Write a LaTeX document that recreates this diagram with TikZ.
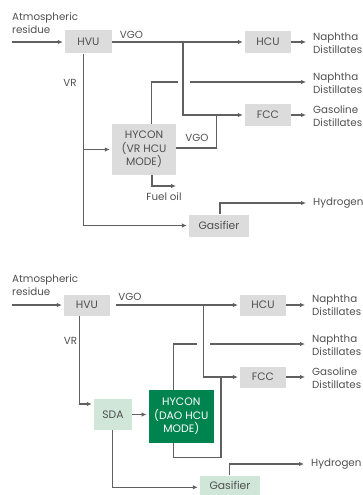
\documentclass[tikz,border=0pt]{standalone}
\usepackage{fontspec}
\setmainfont{Poppins}
\usetikzlibrary{arrows.meta,calc}
\definecolor{boxgrey}{HTML}{DCDCDC}
\definecolor{lightg}{HTML}{CFE6D9}
\definecolor{darkg}{HTML}{00844F}
\definecolor{lnc}{HTML}{606060}
\definecolor{txt}{HTML}{505050}
\tikzset{
  unit/.style={fill=boxgrey, text=txt, inner sep=0, align=center, font=\fontsize{10.8}{13.5}\selectfont},
  lbl/.style={text=txt, inner sep=0, align=left, font=\fontsize{10.3}{13.5}\selectfont},
  ln/.style={draw=lnc, line width=1.2pt},
  arrN/.style={ln, -{Latex[length=5pt,width=4.5pt]}},
  arr/.style={arrN, shorten >=2pt},
  arrT/.style={arrN, shorten >=7pt},
}
\begin{document}
\begin{tikzpicture}[x=1pt,y=-1pt]
\useasboundingbox (0,0) rectangle (362,495);
% ---------- top diagram ----------
\node[lbl, anchor=north west] (atm1) at (12,12) {Atmospheric\\residue};
\node[unit, minimum width=47pt, minimum height=23pt] (hvu1) at (88.5,42) {HVU};
\node[unit, minimum width=46pt, minimum height=22pt] (hcu1) at (268,42) {HCU};
\node[unit, minimum width=46pt, minimum height=22pt] (fcc1) at (268,115) {FCC};
\node[unit, minimum width=64pt, minimum height=51pt] (hyc1) at (144,149.5) {HYCON\\(VR HCU\\MODE)};
\node[unit, minimum width=60pt, minimum height=22pt] (gas1) at (219,225.5) {Gasifier};
\node[lbl, anchor=west] (nd1) at (313,43) {Naphtha\\Distillates};
\node[lbl, anchor=west] (nd2) at (313,83) {Naphtha\\Distillates};
\node[lbl, anchor=west] (gd1) at (313,116) {Gasoline\\Distillates};
\node[lbl, anchor=west] (hy1) at (313,203) {Hydrogen};
\node[lbl] (vgo1) at (131.5,35) {VGO};
\node[lbl] (vr1l) at (70,82.5) {VR};
\node[lbl] (vgo2) at (197,137.5) {VGO};
\node[lbl] (fuel1) at (164,196.5) {Fuel oil};
\coordinate (in1) at (12,42);
\draw[arr] (in1) -- (hvu1.west);
\draw[arr] (hvu1.east) -- (hcu1.west);
\coordinate (j1) at (183,42);
\draw[arr] (j1) |- (fcc1.west);
\draw[arrT] (hcu1.east) -- (hcu1.east -| nd1.west);
\draw[arrT] (fcc1.east) -- (fcc1.east -| gd1.west);
\coordinate (h1a) at (178,82);
\coordinate (h1b) at (190,82);
\draw[ln] ([xshift=7.5pt]hyc1.north) |- (h1a);
\draw[arrT] (h1b) -- (h1b -| nd2.west);
\coordinate (j2) at (216.5,115);
\draw[ln] ([yshift=1.5pt]hyc1.east) -| (j2);
\coordinate (fo1) at (176,186);
\draw[arrN] ([xshift=8pt]hyc1.south) |- (fo1);
\coordinate (vr1a) at (83.3,149.5);
\coordinate (vr1b) at (83.3,225.5);
\draw[ln] (hvu1.south -| vr1b) -- (vr1b);
\draw[arr] (vr1a) -- (hyc1.west);
\draw[arr] (vr1b) -- (gas1.west);
\draw[arrT] ([xshift=1pt]gas1.north) |- (hy1.west);
% ---------- bottom diagram ----------
\node[lbl, anchor=north west] (atm2) at (12,274) {Atmospheric\\residue};
\node[unit, minimum width=46pt, minimum height=21pt] (hvu2) at (87,305) {HVU};
\node[unit, minimum width=46pt, minimum height=21pt] (hcu2) at (263,305) {HCU};
\node[unit, minimum width=46pt, minimum height=21pt] (fcc2) at (263,377) {FCC};
\node[unit, fill=darkg, text=white, minimum width=65pt, minimum height=53pt] (hyc2) at (181.3,416.3) {HYCON\\(DAO HCU\\MODE)};
\node[unit, fill=lightg, minimum width=38pt, minimum height=31pt] (sda2) at (113,414.5) {SDA};
\node[unit, fill=lightg, minimum width=60pt, minimum height=20pt] (gas2) at (230,485.5) {Gasifier};
\node[lbl, anchor=west] (nd3) at (312,305) {Naphtha\\Distillates};
\node[lbl, anchor=west] (nd4) at (312,345) {Naphtha\\Distillates};
\node[lbl, anchor=west] (gd2) at (312,378) {Gasoline\\Distillates};
\node[lbl, anchor=west] (hy2) at (311,464) {Hydrogen};
\node[lbl] (vgo3) at (130,297) {VGO};
\node[lbl] (vr2l) at (70.5,341) {VR};
\coordinate (in2) at (12,305);
\draw[arr] (in2) -- (hvu2.west);
\draw[arr] ([xshift=5.5pt]hvu2.east) -- (hcu2.west);
\coordinate (j3) at (203.3,305);
\draw[arr] (j3) |- (fcc2.west);
\draw[arrT] (hcu2.east) -- (hcu2.east -| nd3.west);
\draw[arrT] (fcc2.east) -- (fcc2.east -| gd2.west);
\coordinate (h2a) at (197,344);
\coordinate (h2b) at (210,344);
\draw[ln] ([xshift=-8pt]hyc2.north) |- (h2a);
\draw[arrT] (h2b) -- (h2b -| nd4.west);
\coordinate (lp) at (221,457.7);
\coordinate (j4) at (221,377);
\draw[ln] ([xshift=-8pt]hyc2.south) |- (lp) -- (j4);
\coordinate (vr2b) at (79.3,404);
\draw[arr] (hvu2.south -| vr2b) -- (vr2b) -- (vr2b -| sda2.west);
\draw[arr] (sda2.east) -- (sda2.east -| hyc2.west);
\coordinate (sb) at (112.3,487.3);
\draw[ln] (sda2.south -| sb) -- (sb);
\draw[arr] (sb) -- (sb -| gas2.west);
\draw[arrT] ([xshift=-0.7pt]gas2.north) |- (hy2.west);
\end{tikzpicture}
\end{document}
